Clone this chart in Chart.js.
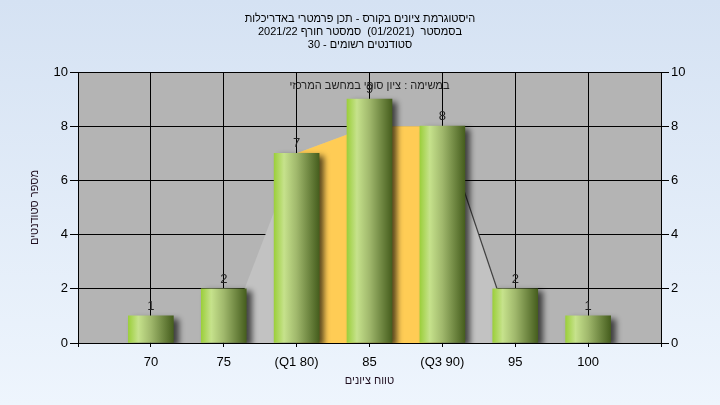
<!DOCTYPE html>
<html>
<head>
<meta charset="utf-8">
<script src="https://cdn.jsdelivr.net/npm/chart.js@4.4.1/dist/chart.umd.min.js"></script>
<style>
  html, body { margin: 0; padding: 0; }
  body { width: 720px; height: 405px; background: linear-gradient(#d5e2f3, #eef5fd); overflow: hidden; }
  canvas { display: block; }
</style>
</head>
<body>
<canvas id="c" width="720" height="405" dir="rtl"></canvas>
<script>
const titleLines = ['היסטוגרמת ציונים בקורס - תכן פרמטרי באדריכלות', 'בסמסטר  (01/2021)  סמסטר חורף 2021/22', 'סטודנטים רשומים - 30'];
const noteText = 'במשימה : ציון סופי במחשב המרכזי';
const xTitle = 'טווח ציונים';
const yTitle = 'מספר סטודנטים';
const categories = ['', '70', '75', '(Q1 80)', '85', '(Q3 90)', '95', '100', ''];
const counts = [null, 1, 2, 7, 9, 8, 2, 1, null];
const curveAll = [null, null, 0, 7, 8, 8, 0, null, null];
const curveIQR = [null, null, null, 7, 8, 8, null, null, null];
const yMin = 0, yMax = 10, yStep = 2;

const FONT = "'Liberation Sans', 'DejaVu Sans', Arial, sans-serif";
const BAR_W = 45;

const bgPlugin = {
  id: 'plotBg',
  beforeDraw(chart) {
    const { ctx, chartArea: a } = chart;
    ctx.save();
    ctx.fillStyle = '#b4b4b4';
    ctx.fillRect(a.left, a.top, a.right - a.left, a.bottom - a.top);
    ctx.restore();
  }
};

const shadowPlugin = {
  id: 'barShadow',
  beforeDatasetDraw(chart, args) {
    if (args.meta.type === 'bar') {
      const ctx = chart.ctx;
      ctx.save();
      ctx.shadowColor = 'rgba(0,0,0,0.65)';
      ctx.shadowBlur = 6;
      ctx.shadowOffsetX = 5;
      ctx.shadowOffsetY = 3;
    }
  },
  afterDatasetDraw(chart, args) {
    if (args.meta.type === 'bar') chart.ctx.restore();
  }
};

const labelPlugin = {
  id: 'valueLabels',
  afterDatasetsDraw(chart) {
    const ctx = chart.ctx;
    const meta = chart.getDatasetMeta(0);
    ctx.save();
    ctx.font = '13px ' + FONT;
    ctx.fillStyle = '#222';
    ctx.textAlign = 'center';
    ctx.textBaseline = 'alphabetic';
    meta.data.forEach((el, i) => {
      if (counts[i] == null) return;
      ctx.fillText(String(counts[i]), el.x, el.y - 6);
    });
    const a = chart.chartArea;
    ctx.font = '11px ' + FONT;
    ctx.textBaseline = 'middle';
    ctx.fillText(noteText, (a.left + a.right) / 2, a.top + 14);
    ctx.restore();
  }
};

new Chart(document.getElementById('c'), {
  data: {
    labels: categories,
    datasets: [
      {
        type: 'bar',
        data: counts,
        order: 0,
        barThickness: BAR_W,
        backgroundColor: (c) => {
          const chart = c.chart;
          if (!chart.chartArea || c.dataIndex == null) return '#9acd32';
          const x = chart.scales.x.getPixelForValue(c.dataIndex);
          const g = chart.ctx.createLinearGradient(x - BAR_W / 2, 0, x + BAR_W / 2, 0);
          g.addColorStop(0, '#9ccf3c');
          g.addColorStop(0.22, '#c6e28c');
          g.addColorStop(0.5, '#a0b86c');
          g.addColorStop(1, '#465e1e');
          return g;
        },
        borderWidth: 0
      },
      {
        type: 'line',
        data: curveIQR,
        order: 1,
        fill: 'origin',
        backgroundColor: '#ffcc55',
        borderWidth: 0,
        pointRadius: 0,
        tension: 0
      },
      {
        type: 'line',
        data: curveAll,
        order: 2,
        fill: 'origin',
        backgroundColor: '#c2c2c2',
        borderWidth: 1.2,
        borderColor: 'rgba(0,0,0,0)',
        segment: {
          borderColor: (s) => (s.p0DataIndex === 5 ? '#404040' : 'rgba(0,0,0,0)')
        },
        pointRadius: 0,
        tension: 0
      }
    ]
  },
  options: {
    responsive: false,
    devicePixelRatio: 1,
    animation: false,
    layout: { padding: { left: 24, right: 24, top: 0, bottom: 13 } },
    plugins: {
      legend: { display: false },
      tooltip: { enabled: false },
      title: {
        display: true,
        text: titleLines,
        color: '#000',
        font: { family: FONT, size: 11, weight: 'normal', lineHeight: '13px' },
        padding: { top: 12, bottom: 21 }
      }
    },
    scales: {
      x: {
        type: 'category',
        offset: false,
        grid: { offset: false, color: '#000', lineWidth: 1, tickLength: 4, drawTicks: true },
        border: { color: '#000', width: 1 },
        ticks: { autoSkip: false, maxRotation: 0, color: '#000', font: { family: FONT, size: 13 }, padding: 8 },
        title: { display: true, text: xTitle, color: '#201020', font: { family: FONT, size: 11 }, padding: { top: 4, bottom: 4 } },
        afterFit: (s) => { s.height = 49; }
      },
      y: {
        position: 'left',
        min: yMin, max: yMax,
        grid: { color: '#000', lineWidth: 1, tickLength: 8 },
        border: { color: '#000', width: 1 },
        ticks: { stepSize: yStep, color: '#000', font: { family: FONT, size: 13 }, padding: 2 },
        title: { display: true, text: yTitle, color: '#201020', font: { family: FONT, size: 11 }, padding: { top: 4, bottom: 4 } },
        afterFit: (s) => { s.width = 54; }
      },
      y2: {
        position: 'right',
        min: yMin, max: yMax,
        grid: { drawOnChartArea: false, color: '#000', lineWidth: 1, tickLength: 8 },
        border: { color: '#000', width: 1 },
        ticks: { stepSize: yStep, color: '#000', font: { family: FONT, size: 13 }, padding: 2 },
        afterFit: (s) => { s.width = 35; }
      }
    }
  },
  plugins: [bgPlugin, shadowPlugin, labelPlugin]
});
</script>
</body>
</html>
